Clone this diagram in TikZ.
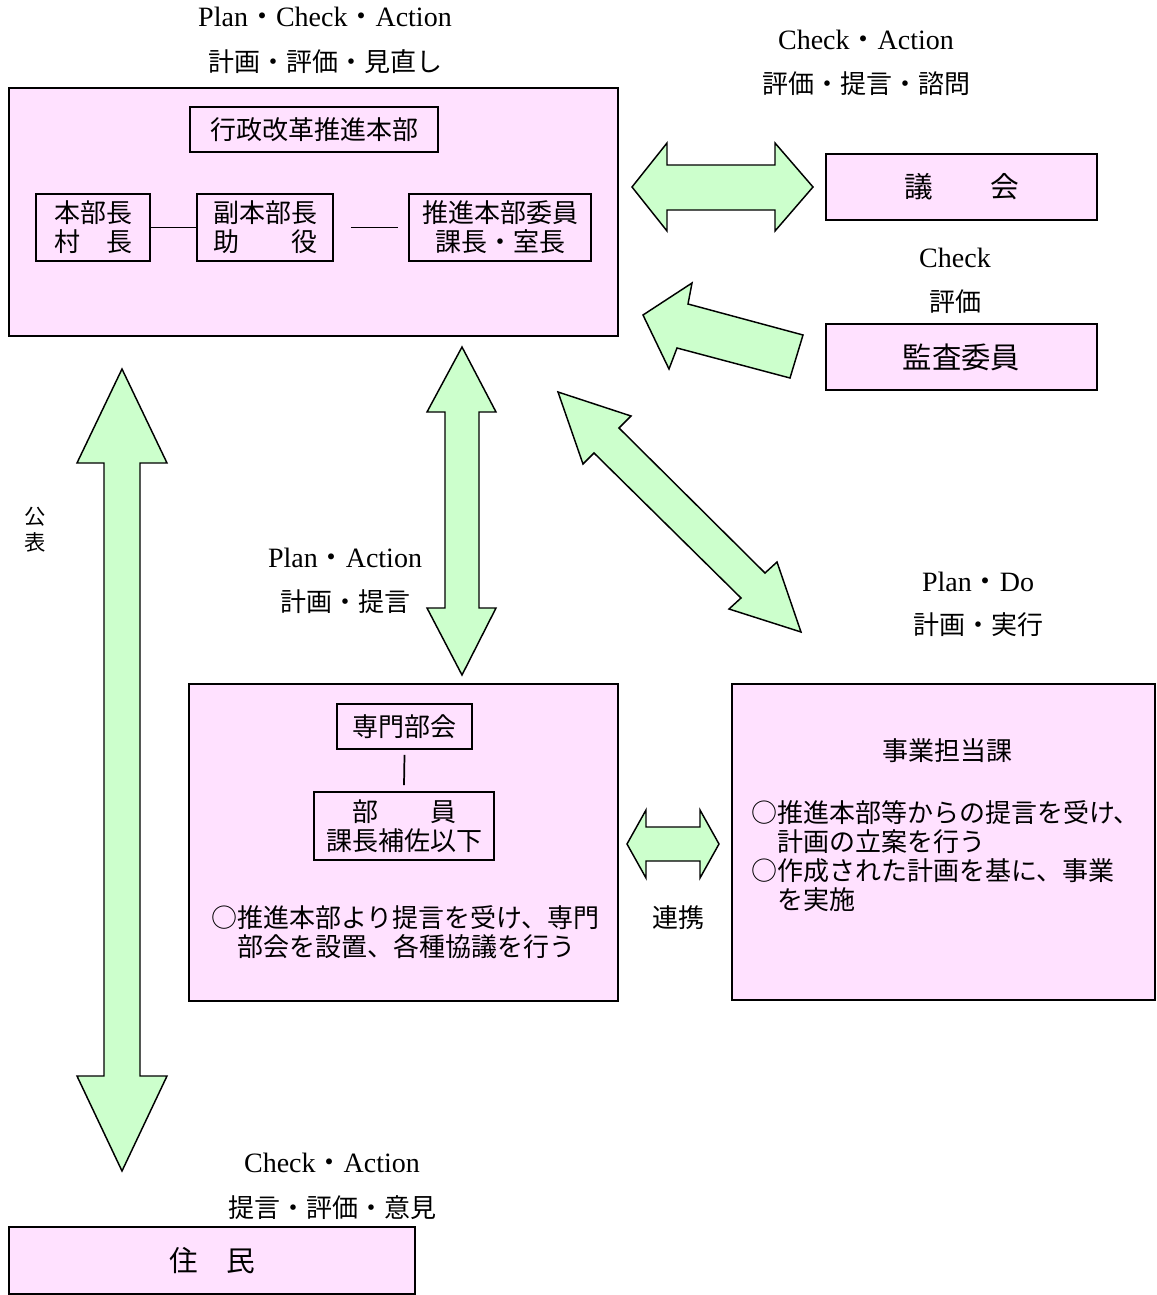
\documentclass[tikz,border=0pt]{standalone}
\usepackage{fontspec}
\setmainfont{Liberation Serif}
\newfontfamily\jp{Noto Sans CJK JP}
\usetikzlibrary{fit,calc}
\definecolor{boxpink}{HTML}{FFE1FF}
\definecolor{arrowgreen}{HTML}{CCFFCC}
\begin{document}
\begin{tikzpicture}[x=0.75pt,y=-0.75pt,
  box/.style={draw=black, line width=1.4pt, fill=boxpink, inner sep=0pt},
  blockarrow/.style={draw=black, line width=1.1pt, fill=arrowgreen, line join=miter},
  lat/.style={inner sep=0pt, font=\fontsize{21}{24}\selectfont},
  jtx/.style={inner sep=0pt, align=center, font=\jp\fontsize{19.5}{21.75}\selectfont},
  bigtxt/.style={inner sep=0pt, font=\jp\fontsize{21.5}{24}\selectfont},
  conn/.style={draw=black, line width=1.3pt}
]
\useasboundingbox (0,0) rectangle (1156,1295);

% ---------- boxes ----------
\node[box, fit={(9,88) (618,336)}] (hq) {};
\node[box, fit={(190,107) (438,152)}] (title) {};
\node[jtx] (titlet) at (title.center) {行政改革推進本部};
\node[box, fit={(36,194) (150,261)}] (b1) {};
\node[jtx] (b1t) at (b1.center) {本部長\\村　長};
\node[box, fit={(197,194) (333,261)}] (b2) {};
\node[jtx] (b2t) at (b2.center) {副本部長\\助　　役};
\node[box, fit={(409,194) (591,261)}] (b3) {};
\node[jtx] (b3t) at (b3.center) {推進本部委員\\課長・室長};
\draw[conn] (b1.east) -- (b2.west);
\draw[conn] ($(b2.east)+(17,0)$) -- ($(b3.west)+(-10,0)$);

\node[box, fit={(826,154) (1097,220)}] (gikai) {};
\node[bigtxt] (gikait) at (gikai.center) {議　　会};
\node[box, fit={(826,324) (1097,390)}] (kansa) {};
\node[bigtxt, font=\jp\fontsize{22}{24}\selectfont] (kansat) at (kansa.center) {監査委員};
\node[box, fit={(9,1227) (415,1294)}] (jumin) {};
\node[bigtxt] (jumint) at (jumin.center) {住　民};

\node[box, fit={(189,684) (618,1001)}] (senmon) {};
\node[box, fit={(337,704) (472,749)}] (sm) {};
\node[jtx] (smt) at (sm.center) {専門部会};
\node[box, fit={(314,792) (494,860)}] (mem) {};
\node[jtx] (memt) at (mem.center) {部　　員\\課長補佐以下};
\draw[conn] ($(sm.south)+(0,5)$) -- ($(mem.north)+(0,-6)$);
\node[jtx, align=left, anchor=west] (stext) at (211,932)
  {○推進本部より提言を受け、専門\\　部会を設置、各種協議を行う};

\node[box, fit={(732,684) (1155,1000)}] (jigyo) {};
\node[jtx] (jtitle) at (947,751) {事業担当課};
\node[jtx, align=left, anchor=west] (jtext) at (751,856)
  {○推進本部等からの提言を受け、\\　計画の立案を行う\\○作成された計画を基に、事業\\　を実施};

% ---------- block arrows ----------
\draw[blockarrow] (632,187) -- (667,143) -- (667,165) -- (775,165) -- (775,143) -- (813,187)
  -- (775,231) -- (775,210) -- (667,210) -- (667,231) -- cycle;
\draw[blockarrow] (643,315) -- (692,283) -- (688,304) -- (803,335) -- (790,378) -- (677,348)
  -- (669,369) -- cycle;
\draw[blockarrow] (462,347) -- (496,412) -- (479,412) -- (479,608) -- (496,608) -- (462,675)
  -- (427,608) -- (445,608) -- (445,412) -- (427,412) -- cycle;
\draw[blockarrow] (558,392) -- (631,416) -- (619,428) -- (765,573) -- (777,562) -- (801,632)
  -- (729,609) -- (741,598) -- (594,453) -- (583,464) -- cycle;
\draw[blockarrow] (122,369) -- (167,463) -- (140,463) -- (140,1076) -- (167,1076) -- (122,1171)
  -- (77,1076) -- (104,1076) -- (104,463) -- (77,463) -- cycle;
\draw[blockarrow] (627,844) -- (646,810) -- (646,827) -- (700,827) -- (700,810) -- (719,844)
  -- (700,878) -- (700,861) -- (646,861) -- (646,878) -- cycle;

% ---------- labels ----------
\node[lat] (l1a) at (325,17) {Plan{\jp ・}Check{\jp ・}Action};
\node[jtx] (l1b) at (325,62) {計画・評価・見直し};
\node[lat] (l2a) at (866,40) {Check{\jp ・}Action};
\node[jtx] (l2b) at (866,84) {評価・提言・諮問};
\node[lat] (l3a) at (955,258) {Check};
\node[jtx] (l3b) at (955,302) {評価};
\node[lat] (l4a) at (345,558) {Plan{\jp ・}Action};
\node[jtx] (l4b) at (345,602) {計画・提言};
\node[lat] (l5a) at (978,582) {Plan{\jp ・}Do};
\node[jtx] (l5b) at (978,625) {計画・実行};
\node[jtx, font=\jp\fontsize{16}{19.5}\selectfont] (l6) at (35,530) {公\\表};
\node[jtx] (l7) at (678,918) {連携};
\node[lat] (l8a) at (332,1163) {Check{\jp ・}Action};
\node[jtx] (l8b) at (332,1208) {提言・評価・意見};
\end{tikzpicture}
\end{document}
